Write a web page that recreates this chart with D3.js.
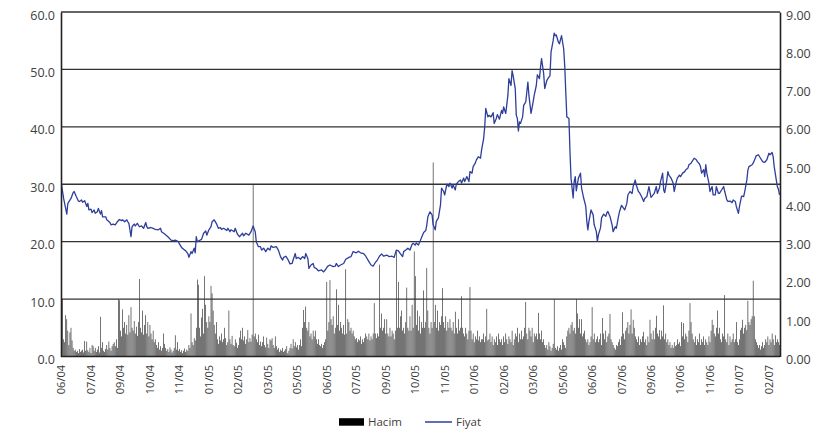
<!DOCTYPE html>
<html>
<head>
<meta charset="utf-8">
<script src="https://cdn.jsdelivr.net/npm/d3@7"></script>
<style>
	body { margin: 0; background: #fff; }
	svg text { font-family: "Open Sans", "DejaVu Sans", sans-serif; fill: #404040; }
</style>
</head>
<body>
<div id="graphic-wrapper"></div>
<script>
/* global d3 */

// x axis labels, one every 28 trading days
const tickLabels = ["06/04", "07/04", "09/04", "10/04", "11/04", "01/05", "02/05", "03/05",
	"05/05", "06/05", "07/05", "09/05", "10/05", "11/05", "01/06", "02/06", "03/06",
	"05/06", "06/06", "07/06", "09/06", "10/06", "11/06", "01/07", "02/07"]
const TICK_EVERY = 28

const leftTicks = [0, 10, 20, 30, 40, 50, 60]
const rightTicks = [0, 1, 2, 3, 4, 5, 6, 7, 8, 9]

// Hacim (volume), one value per trading day
const hacim = [
	9.8, 10, 3, 2.5, 7.2, 6.5, 4.5, 2, 4.2, 5,
	2.8, 1.5, 1, 1.2, 0.8, 1, 0.6, 1.3, 0.8, 1,
	1.2, 0.7, 2.7, 1, 2.6, 1.1, 0.8, 1.5, 0.6, 2,
	1.8, 1, 1.5, 0.8, 1.2, 1.8, 0.7, 6.9, 1.5, 2.5,
	1, 0.8, 1.3, 2, 1.2, 2.6, 1.5, 1, 1.8, 2.2,
	2.5, 1.8, 3, 1.5, 10, 9.8, 4.5, 3.5, 8.2, 5,
	6, 4, 5.5, 3.8, 7.2, 4.2, 8.6, 5, 4.5, 6.2,
	4, 5.2, 3.6, 6, 13.5, 5, 4.2, 8, 3.8, 5.5,
	7.2, 4, 6, 3.5, 5.5, 4, 3, 4.5, 2.5, 3,
	2, 1.5, 2.5, 1.2, 1.8, 1, 1.5, 4, 2.2, 1.5,
	1, 1.3, 0.8, 1.6, 1.2, 0.7, 1, 1.5, 3.7, 1.2,
	2.5, 1, 1.3, 0.8, 1.1, 0.6, 1, 1.4, 0.8, 1.2,
	1, 2, 1.5, 7.5, 2.5, 2, 3.2, 2.8, 5, 13.4,
	12.5, 5, 3.5, 6.8, 8.3, 4, 14, 9, 6, 5,
	7, 6, 12.3, 11, 8, 5.5, 4, 6, 3, 2.2,
	3.5, 2.8, 4, 2.5, 3, 5, 3.2, 2, 2.5, 8,
	3, 2.2, 3.6, 2, 1.8, 3, 2.4, 1.5, 2, 3.3,
	4.5, 3, 5, 2.8, 3.5, 2.2, 3, 4.6, 2.5, 3.2,
	2.6, 3.8, 30, 3.5, 4, 3, 2.5, 3.8, 2, 2.6,
	1.8, 2.5, 3.5, 2, 1.6, 3.3, 2.2, 1.5, 3, 2.8,
	3.2, 2, 1.5, 3.5, 1.8, 1.2, 1.5, 0.8, 1.2, 1,
	1.5, 0.8, 1, 1.3, 1.8, 0.6, 1, 1.5, 2.2, 1.4,
	3, 1.8, 2.5, 1.6, 2, 1.2, 2, 3, 1.8, 5,
	8.1, 6, 8.7, 5, 4.5, 6, 3.5, 4, 3, 4.5,
	3.5, 4.5, 3, 2.2, 3, 2, 1.8, 2.2, 1.5, 2,
	2.5, 3, 13, 4.5, 6, 13.3, 6.5, 5.5, 7, 4,
	5, 11.7, 5.5, 9, 4.5, 6, 5, 4, 5.5, 3.8,
	15.2, 4, 6.5, 6, 4.5, 5, 4, 4.5, 3.5, 3,
	3.2, 2.5, 3, 2.8, 3.5, 2.2, 3, 2.5, 3.2, 4,
	3.5, 3, 4, 2.8, 3.5, 3, 4, 9.3, 4, 3.2,
	4, 3.5, 16, 5, 7.5, 4.5, 5, 6.5, 4, 6.5,
	4, 3.5, 5, 3.5, 4.5, 4, 3, 4.5, 18.3, 5,
	13, 5, 7, 8, 4.5, 5, 4, 6, 12, 5,
	4.5, 7, 4.5, 9, 5, 18.3, 14, 5.5, 8, 4.5,
	7, 4, 6, 5, 11.5, 5, 6, 15.4, 8, 5,
	4, 6, 5, 33.8, 6, 9, 5, 8, 4.5, 6,
	5.5, 7, 11.9, 6, 5, 7, 4.5, 6, 5, 6.5,
	5, 4.5, 6, 4, 7.8, 5, 4, 6.5, 4.5, 5,
	10.5, 5, 4, 3.5, 5, 4, 3, 4.5, 12.1, 4.5,
	3, 4, 2.5, 3.5, 3, 4.5, 2.8, 3.5, 2.5, 3,
	3, 4, 2.5, 3.5, 8.3, 2.8, 3, 4, 2.5, 3.5,
	2, 3, 2.5, 3.5, 2, 4, 3, 2.5, 3, 2,
	3.5, 2.5, 4, 3, 2.2, 3.5, 3, 2.5, 4.5, 2,
	3, 4, 3.5, 5, 2.5, 4, 3, 4.5, 3, 3.5,
	5, 9.5, 4, 3, 5, 4.5, 3.5, 5, 2.5, 4,
	3.5, 4, 3, 7.6, 4, 3, 4.5, 2.5, 3, 2,
	1.5, 2, 1.2, 2.5, 1.8, 1, 1.5, 2.2, 10, 1.5,
	1.2, 1.8, 1, 1.5, 2, 1.2, 3, 2.5, 2, 1.5,
	3.5, 4.5, 5, 4, 5.5, 6, 4.5, 5, 4, 10,
	7.5, 5, 6.5, 4, 6.5, 3.5, 4, 4.5, 3, 2.5,
	3, 2, 2.5, 3.5, 8.6, 3, 4, 2.5, 3, 3.5,
	2.5, 3, 4, 2, 6.7, 4, 3, 4.5, 2.5, 3.5,
	4, 7.4, 3, 2.5, 2, 1.5, 1.2, 2, 1.8, 2.5,
	3, 2, 3.5, 7.7, 4, 3, 4.5, 5, 6, 4,
	5.5, 8.2, 4, 6.4, 5, 3.5, 3, 2.5, 3.5, 2,
	3, 2.5, 3.5, 4.3, 2.5, 3, 2, 3.5, 2.5, 6.4,
	4, 3, 4.5, 3, 5, 7.1, 4, 3.5, 4.6, 3,
	4.5, 3.5, 8.9, 3, 4, 2.5, 3, 2, 2.5, 1.5,
	2, 1.5, 2.5, 1.8, 2, 3, 2.2, 2.5, 1.8, 6,
	3.5, 5.8, 3, 4, 3.5, 2.5, 4.5, 9.3, 6, 4,
	3, 2.5, 3.5, 2, 3, 2.5, 4, 2, 3, 2.5,
	3.5, 2, 3, 2.5, 2, 3.5, 2.5, 4.5, 6.4, 5.5,
	4, 3.5, 5, 8, 4, 5, 3, 2.5, 4, 3.5,
	10.7, 3, 2.5, 4, 2, 3.5, 2.5, 3, 4, 2.5,
	3, 6, 2.5, 2, 3, 4.6, 5, 6.4, 4, 5,
	5.5, 4.6, 9.7, 6, 5.5, 6.5, 7, 13.2, 7, 3,
	2.5, 2, 1.5, 2, 1.2, 1.8, 2.5, 1.5, 2, 3,
	2.5, 3.5, 2, 3, 2.5, 4, 3, 2, 3.7, 2.5,
	3, 2.5, 2
]

// Fiyat (price) as [trading day, price]
const fiyat = [
	[0, 4.48], [2, 4.13], [5, 3.72], [6, 4.00], [9, 4.13], [11, 4.28], [12, 4.31], [14, 4.18], [16, 4.06], [17, 4.05],
	[19, 4.09], [20, 4.03], [22, 4.07], [24, 3.92], [25, 4.00], [26, 3.83], [28, 3.85], [29, 3.76], [31, 3.83], [32, 3.74],
	[34, 3.78], [35, 3.87], [37, 3.72], [38, 3.81], [39, 3.65], [42, 3.65], [43, 3.57], [46, 3.50], [47, 3.44], [49, 3.46],
	[51, 3.44], [53, 3.52], [55, 3.58], [57, 3.55], [58, 3.57], [60, 3.52], [62, 3.57], [63, 3.52], [64, 3.48], [66, 3.13],
	[67, 3.39], [69, 3.46], [70, 3.41], [72, 3.48], [74, 3.39], [76, 3.41], [78, 3.35], [80, 3.50], [81, 3.39], [82, 3.35],
	[85, 3.37], [87, 3.35], [89, 3.32], [92, 3.31], [94, 3.35], [95, 3.26], [98, 3.20], [101, 3.13], [104, 3.04], [106, 3.03],
	[108, 3.04], [111, 3.00], [112, 2.94], [114, 2.85], [116, 2.80], [118, 2.76], [120, 2.69], [121, 2.59], [123, 2.74], [124, 2.69],
	[126, 2.83], [127, 2.71], [128, 3.13], [129, 3.00], [131, 3.03], [133, 3.06], [135, 3.22], [137, 3.28], [138, 3.17], [140, 3.31],
	[142, 3.39], [143, 3.52], [145, 3.57], [147, 3.48], [149, 3.35], [151, 3.37], [152, 3.32], [154, 3.35], [157, 3.29], [158, 3.35],
	[160, 3.26], [161, 3.31], [164, 3.26], [165, 3.35], [167, 3.20], [169, 3.13],
	[172, 3.22], [173, 3.15], [175, 3.22], [178, 3.17], [180, 3.26], [182, 3.41], [184, 3.26], [185, 3.00], [187, 2.87], [189, 2.87],
	[190, 2.78], [192, 2.83], [194, 2.74], [196, 2.83], [198, 2.78], [199, 2.89], [201, 2.85], [204, 2.87], [206, 2.78], [208, 2.61],
	[210, 2.52], [211, 2.59], [213, 2.62], [215, 2.54], [217, 2.42], [219, 2.43], [220, 2.52], [222, 2.69], [223, 2.56], [225, 2.59],
	[227, 2.54], [229, 2.61], [231, 2.56], [232, 2.69], [234, 2.56], [235, 2.30], [237, 2.39], [239, 2.43], [240, 2.33], [242, 2.30],
	[244, 2.24], [247, 2.26], [249, 2.21], [251, 2.28], [253, 2.36], [255, 2.39], [258, 2.35], [260, 2.36], [261, 2.43], [263, 2.35],
	[265, 2.39], [268, 2.43], [270, 2.54], [273, 2.59], [275, 2.61], [277, 2.74], [280, 2.71], [282, 2.75], [284, 2.71], [287, 2.69],
	[289, 2.62], [292, 2.48], [294, 2.39], [296, 2.36], [298, 2.45], [300, 2.52], [302, 2.62], [304, 2.68], [306, 2.62], [309, 2.65],
	[311, 2.61], [314, 2.62], [316, 2.59], [318, 2.78], [320, 2.76], [322, 2.68], [324, 2.61], [325, 2.74], [327, 2.78], [329, 2.83],
	[331, 2.78], [333, 2.93], [334, 2.96], [336, 2.91], [337, 2.97], [339, 2.91], [341, 3.04], [342, 3.11], [344, 3.24], [346, 3.29],
	[347, 3.44], [348, 3.65], [350, 3.78],
	[352, 3.70], [353, 3.44], [355, 3.31], [356, 3.53], [358, 3.62], [360, 3.96], [361, 4.40], [363, 4.31], [364, 4.22], [366, 4.50],
	[368, 4.44], [369, 4.53], [371, 4.40], [372, 4.48], [374, 4.35], [375, 4.50], [377, 4.57], [379, 4.61], [380, 4.53], [382, 4.66],
	[383, 4.57], [385, 4.70], [387, 4.57], [388, 4.83], [390, 4.79], [391, 4.96], [393, 5.05], [394, 5.13], [396, 5.22], [398, 5.18],
	[399, 5.39], [401, 5.70], [402, 6.00], [403, 6.48], [405, 6.26], [406, 6.30], [408, 6.26], [410, 6.37], [411, 6.09], [413, 6.22],
	[414, 6.32], [416, 6.20], [418, 6.43], [419, 6.35], [420, 6.52], [422, 6.35], [424, 6.82], [425, 7.26], [427, 7.08], [428, 7.47],
	[429, 7.34], [431, 7.00], [432, 6.30], [433, 6.22], [434, 5.89], [435, 6.13], [436, 6.09], [438, 6.26], [439, 6.56], [441, 6.65],
	[443, 7.17], [444, 6.82], [446, 6.35], [448, 6.65], [449, 6.82], [451, 7.08], [452, 7.36], [454, 7.26], [455, 7.56], [456, 7.78],
	[458, 7.39], [459, 7.00], [461, 7.21], [462, 7.26], [464, 7.34], [465, 7.95], [467, 8.25], [468, 8.45], [469, 8.38], [470, 8.40],
	[472, 8.21], [473, 8.17], [474, 8.28], [475, 8.38], [477, 8.04], [478, 7.60], [479, 6.91], [480, 6.26], [482, 6.22], [483, 5.35],
	[484, 4.66], [486, 4.14], [487, 4.57], [488, 4.70], [489, 4.33], [491, 4.66], [493, 4.79], [494, 4.40], [496, 4.14], [498, 3.92],
	[499, 3.53], [500, 3.31], [501, 3.53], [503, 3.83], [505, 3.70], [506, 3.44], [508, 3.27], [509, 3.01], [510, 3.18], [512, 3.36],
	[513, 3.62], [515, 3.72], [517, 3.66], [518, 3.75], [519, 3.79], [521, 3.66],
	[523, 3.44], [524, 3.26], [526, 3.39], [527, 3.35], [529, 3.65], [530, 3.78], [532, 3.95], [534, 3.87], [535, 3.83], [537, 4.00],
	[538, 4.22], [540, 4.31], [542, 4.26], [543, 4.44], [545, 4.61], [546, 4.48], [548, 4.31], [549, 4.28], [551, 4.18], [553, 4.05],
	[554, 4.13], [556, 4.18], [557, 4.31], [558, 4.44], [560, 4.16], [561, 4.19], [563, 4.26], [565, 4.44], [566, 4.26], [568, 4.40],
	[569, 4.57], [571, 4.79], [572, 4.35], [573, 4.28], [575, 4.61], [576, 4.83], [577, 4.74], [579, 4.66], [581, 4.53], [582, 4.31],
	[584, 4.57], [585, 4.66], [587, 4.74], [588, 4.70], [590, 4.79], [592, 4.83], [593, 4.88], [595, 4.92], [596, 5.01], [598, 5.05],
	[600, 5.14], [601, 5.18], [603, 5.14], [604, 5.09], [606, 5.03], [607, 4.96], [608, 4.79], [610, 4.88], [611, 4.70], [612, 5.01],
	[613, 4.79], [615, 4.53], [616, 4.31], [618, 4.44], [619, 4.22], [621, 4.22], [622, 4.44], [624, 4.26], [625, 4.26], [627, 4.35],
	[629, 4.44], [630, 4.31], [632, 4.09], [633, 4.05], [635, 4.06], [637, 4.02], [638, 4.09], [640, 4.05], [641, 3.92], [643, 3.74],
	[644, 3.92], [646, 4.19], [648, 4.18], [649, 4.31], [651, 4.61], [652, 4.87], [653, 4.96], [656, 5.01], [657, 5.05], [659, 5.18],
	[660, 5.25], [662, 5.27], [664, 5.18], [666, 5.09], [668, 5.07], [670, 5.14], [672, 5.31], [673, 5.27], [675, 5.33], [676, 5.22],
	[677, 4.96], [679, 4.61], [680, 4.44], [681, 4.37], [682, 4.22]
]

const dayAccessor = d => d[0]
const priceAccessor = d => d[1]

let DIMENSIONS, WRAPPER, BOUNDS, XSCALE, YSCALE_VOL, YSCALE_PRICE

function setConfig() {
	DIMENSIONS = {
		width: 820,
		height: 433,
		margin: {
			top: 12,
			right: 40,
			bottom: 76.5,
			left: 61,
		},
	}
	DIMENSIONS.boundedWidth = DIMENSIONS.width - DIMENSIONS.margin.left - DIMENSIONS.margin.right
	DIMENSIONS.boundedHeight = DIMENSIONS.height - DIMENSIONS.margin.top - DIMENSIONS.margin.bottom

	WRAPPER = d3.select("#graphic-wrapper")
		.append("svg")
			.attr("width", DIMENSIONS.width)
			.attr("height", DIMENSIONS.height)
	BOUNDS = WRAPPER.append("g")
		.attr("transform", `translate(${DIMENSIONS.margin.left},${DIMENSIONS.margin.top})`)
}

function drawChart(dimensions, bounds) {
	XSCALE = d3.scaleBand()
		.domain(d3.range(hacim.length))
		.range([0, dimensions.boundedWidth])
		.padding(0)
	YSCALE_VOL = d3.scaleLinear()
		.domain([0, 60])
		.range([dimensions.boundedHeight, 0])
	YSCALE_PRICE = d3.scaleLinear()
		.domain([0, 9])
		.range([dimensions.boundedHeight, 0])

	const bw = XSCALE.bandwidth()
	const barWidth = bw * 0.52

	// volume bars (thin black bars, anti-aliased to grey like the original)
	bounds.append("g")
		.selectAll("rect")
		.data(hacim)
		.join("rect")
			.attr("x", (d, i) => XSCALE(i) + (bw - barWidth) / 2)
			.attr("y", d => YSCALE_VOL(d))
			.attr("width", barWidth)
			.attr("height", d => dimensions.boundedHeight - YSCALE_VOL(d))
			.attr("fill", "#000")

	// horizontal grid lines
	bounds.append("g")
		.selectAll("line")
		.data(leftTicks.filter(d => d > 0))
		.join("line")
			.attr("x1", 0)
			.attr("x2", dimensions.boundedWidth)
			.attr("y1", d => YSCALE_VOL(d))
			.attr("y2", d => YSCALE_VOL(d))
			.attr("stroke", "#333")
			.attr("stroke-width", 1.3)

	// price line
	const priceLine = d3.line()
		.x(d => XSCALE(dayAccessor(d)) + bw / 2)
		.y(d => YSCALE_PRICE(priceAccessor(d)))
	bounds.append("path")
		.datum(fiyat)
		.attr("d", priceLine)
		.attr("fill", "none")
		.attr("stroke", "#2e3e9a")
		.attr("stroke-width", 1.3)
		.attr("stroke-linejoin", "round")

	// left axis
	const leftAxis = bounds.append("g")
		.call(d3.axisLeft(YSCALE_VOL)
			.tickValues(leftTicks)
			.tickFormat(d3.format(".1f"))
			.tickSize(0)
			.tickPadding(6))
	leftAxis.select(".domain").attr("stroke", "#222").attr("stroke-width", 1.6)
	leftAxis.selectAll("text")
		.attr("dy", "0.56em")
		.style("font-size", "12.5px")
		.attr("fill", "#404040")

	// right axis
	const rightAxis = bounds.append("g")
		.attr("transform", `translate(${dimensions.boundedWidth},0)`)
		.call(d3.axisRight(YSCALE_PRICE)
			.tickValues(rightTicks)
			.tickFormat(d3.format(".2f"))
			.tickSize(0)
			.tickPadding(6))
	rightAxis.select(".domain").attr("stroke", "#222").attr("stroke-width", 1.6)
	rightAxis.selectAll("text")
		.attr("dy", "0.56em")
		.style("font-size", "12.5px")
		.attr("fill", "#404040")

	// bottom line
	bounds.append("line")
		.attr("x1", 0)
		.attr("x2", dimensions.boundedWidth)
		.attr("y1", dimensions.boundedHeight)
		.attr("y2", dimensions.boundedHeight)
		.attr("stroke", "#222")
		.attr("stroke-width", 1.4)

	// rotated date labels
	bounds.append("g")
		.selectAll("text")
		.data(tickLabels)
		.join("text")
			.attr("transform", (d, i) => `translate(${XSCALE(i * TICK_EVERY) + bw / 2},${dimensions.boundedHeight + 8.5}) rotate(-90)`)
			.attr("text-anchor", "end")
			.attr("dy", "0.36em")
			.style("font-size", "11px")
			.style("fill", "#383838")
			.text(d => d)

	// legend
	const legend = WRAPPER.append("g")
		.attr("transform", "translate(339,422)")
	legend.append("rect")
		.attr("x", 0)
		.attr("y", -3.8)
		.attr("width", 25)
		.attr("height", 7.5)
		.attr("fill", "#000")
	legend.append("text")
		.attr("x", 29)
		.attr("dy", "0.35em")
		.style("font-size", "11.5px")
		.text("Hacim")
	legend.append("line")
		.attr("x1", 86)
		.attr("x2", 113)
		.attr("stroke", "#2e3e9a")
		.attr("stroke-width", 1.5)
	legend.append("text")
		.attr("x", 117)
		.attr("dy", "0.35em")
		.style("font-size", "11.5px")
		.text("Fiyat")
}

function init() {
	setConfig()
	drawChart(DIMENSIONS, BOUNDS)
}

init()
</script>
</body>
</html>
